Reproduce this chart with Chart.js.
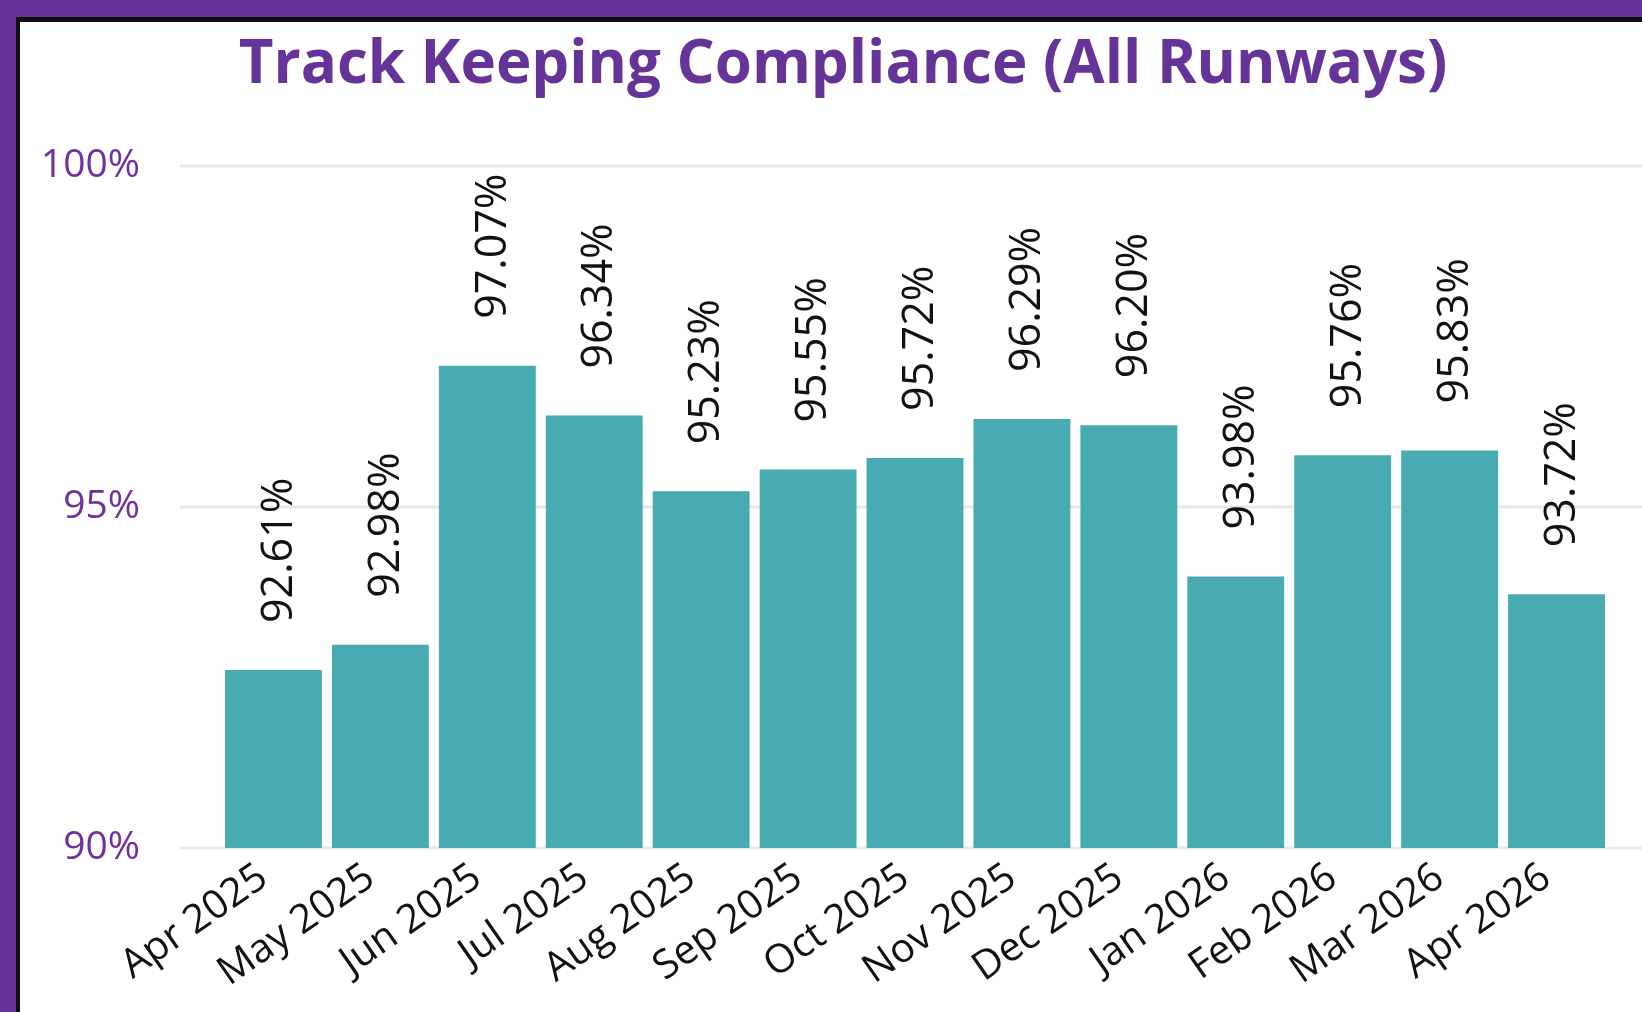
<!DOCTYPE html>
<html>
<head>
<meta charset="utf-8">
<script src="https://cdn.jsdelivr.net/npm/chart.js@4.4.1/dist/chart.umd.min.js"></script>
<style>
  html, body { margin: 0; padding: 0; background: #663399; overflow: hidden; }
  #frame {
    position: absolute; left: 16px; top: 17px; width: 1626px; height: 995px;
    border-left: 4px solid #111; border-top: 5px solid #111; box-sizing: border-box;
    background: #fff;
  }
  #wrap { position: absolute; left: 0; top: 0; width: 1622px; height: 990px; }
</style>
</head>
<body>
<div id="frame"><div id="wrap"><canvas id="chart"></canvas></div></div>
<script>
const months = ['Apr 2025', 'May 2025', 'Jun 2025', 'Jul 2025', 'Aug 2025', 'Sep 2025', 'Oct 2025',
                'Nov 2025', 'Dec 2025', 'Jan 2026', 'Feb 2026', 'Mar 2026', 'Apr 2026'];
const compliance = [92.61, 92.98, 97.07, 96.34, 95.23, 95.55, 95.72, 96.29, 96.20, 93.98, 95.76, 95.83, 93.72];
const yTicks = [90, 95, 100];

const FONT = "'Open Sans', 'Noto Sans', sans-serif";

// y grid + y labels: the lines run from left of the plot to the canvas edge,
// and the labels sit outside the scale box, so both are drawn here
const yAxisDraw = {
    id: 'yAxisDraw',
    beforeDatasetsDraw(chart) {
        const { ctx, chartArea, scales } = chart;
        ctx.save();
        ctx.strokeStyle = '#e8e8e8';
        ctx.lineWidth = 3;
        ctx.fillStyle = '#7030a0';
        ctx.font = '39px ' + FONT;
        ctx.textAlign = 'right';
        ctx.textBaseline = 'middle';
        yTicks.forEach(v => {
            const y = Math.round(scales.y.getPixelForValue(v));
            ctx.beginPath();
            ctx.moveTo(chartArea.left - 40, y);
            ctx.lineTo(chart.width, y);
            ctx.stroke();
            ctx.fillText(v + '%', chartArea.left - 80, y);
        });
        ctx.restore();
    }
};

// vertical value labels above each bar
const barLabels = {
    id: 'barLabels',
    afterDatasetsDraw(chart) {
        const { ctx } = chart;
        const meta = chart.getDatasetMeta(0);
        ctx.save();
        ctx.fillStyle = '#111';
        ctx.font = '43px ' + FONT;
        ctx.textAlign = 'left';
        ctx.textBaseline = 'middle';
        meta.data.forEach((bar, i) => {
            ctx.save();
            ctx.translate(bar.x, bar.y - 47);
            ctx.rotate(-Math.PI / 2);
            ctx.fillText(compliance[i].toFixed(2) + '%', 0, 6);
            ctx.restore();
        });
        ctx.restore();
    }
};

const ctx = document.getElementById('chart');

new Chart(ctx, {
    type: 'bar',
    data: {
        labels: months,
        datasets: [{
            label: 'Compliance',
            data: compliance,
            backgroundColor: '#47abb1',
            borderWidth: 0,
            categoryPercentage: 1,
            barPercentage: 0.906
        }]
    },
    options: {
        responsive: true,
        maintainAspectRatio: false,
        animation: false,
        layout: { padding: { left: 56, right: 32, top: 0, bottom: 0 } },
        plugins: {
            legend: { display: false },
            tooltip: { enabled: false },
            title: {
                display: true,
                text: 'Track Keeping Compliance (All Runways)',
                color: '#663399',
                font: { family: FONT, size: 60, weight: 'bold', lineHeight: 1.2 },
                padding: { top: 8, bottom: 64 }
            }
        },
        scales: {
            x: {
                grid: { display: false },
                border: { display: false },
                ticks: {
                    color: '#111',
                    font: { family: FONT, size: 40 },
                    minRotation: 35,
                    maxRotation: 35,
                    padding: -2,
                    labelOffset: -10
                },
                afterFit(scale) { scale.height = 164; }
            },
            y: {
                min: 90,
                max: 100,
                grid: { display: false, drawTicks: false },
                border: { display: false },
                ticks: { display: false, stepSize: 5 },
                afterFit(scale) { scale.width = 144; }
            }
        }
    },
    plugins: [yAxisDraw, barLabels]
});
</script>
</body>
</html>
